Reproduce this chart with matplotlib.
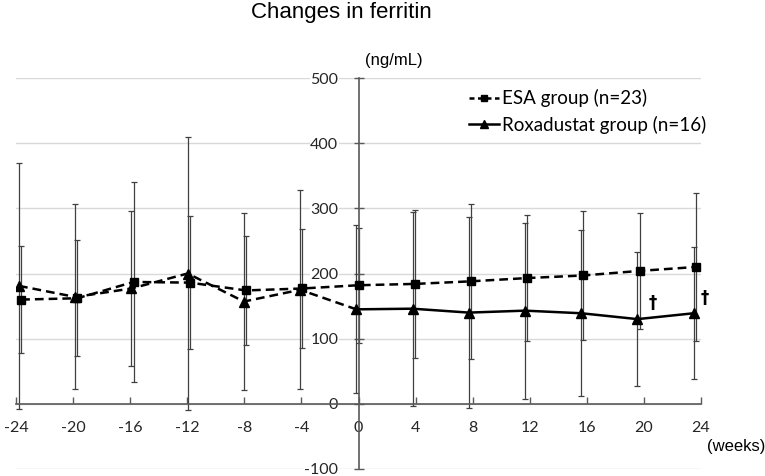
import matplotlib
matplotlib.use('Agg')
import matplotlib.pyplot as plt
import numpy as np

# values (ng/mL)
weeks = np.array([-24, -20, -16, -12, -8, -4, 0, 4, 8, 12, 16, 20, 24])
esa_mean = np.array([160, 162, 187, 186, 174, 177, 182, 184, 188, 193, 197, 204, 210])
esa_sd = np.array([82, 89, 153, 102, 84, 91, 88, 113, 119, 97, 99, 89, 113])
rox_mean = np.array([181, 164, 177, 200, 157, 175, 145, 146, 140, 143, 139, 130, 139])
rox_sd = np.array([189, 142, 119, 209, 136, 153, 129, 149, 147, 135, 127, 103, 101])

# significance marks (rox vs esa)
dagger_weeks = [20, 24]
dagger_y = [155, 162]
dagger_dx = [0.6, 0.25]

esa_label = 'ESA group (n=23)'
rox_label = 'Roxadustat group (n=16)'

axis_col = '#595959'
grid_col = '#d9d9d9'
bar_col = '#404040'
tick_font = 'Lato'
text_font = 'Liberation Sans'

fig = plt.figure(figsize=(7.65, 4.76), dpi=100)
ax = fig.add_axes([16 / 765, 7 / 476, 685 / 765, 391 / 476])

# the points sit a little inside the tick marks in the original
esa_x = weeks * 0.985
rox_x = weeks * 0.985 - 0.15

dash = (0, (3.5, 2))

ax.errorbar(rox_x, rox_mean, yerr=rox_sd, fmt='none', ecolor=bar_col,
            elinewidth=0.9, capsize=2.5, capthick=0.9, zorder=2)
ax.errorbar(esa_x, esa_mean, yerr=esa_sd, fmt='none', ecolor=bar_col,
            elinewidth=0.9, capsize=2.5, capthick=0.9, zorder=2)

pre = weeks <= 0
post = weeks >= 0
ax.plot(rox_x[pre], rox_mean[pre], color='black', lw=1.8, linestyle=dash, zorder=3)
ax.plot(rox_x[post], rox_mean[post], color='black', lw=1.8, zorder=3)
ax.plot(rox_x, rox_mean, linestyle='none', marker='^', ms=6.5, color='black', zorder=4)
ax.plot(esa_x, esa_mean, color='black', lw=1.8, linestyle=dash, marker='s', ms=5.5, zorder=4)

for w, y, dx in zip(dagger_weeks, dagger_y, dagger_dx):
    ax.text(w + dx, y, '\u2020', ha='center', va='center', fontsize=12,
            fontweight='bold', family='DejaVu Sans')

ax.set_xlim(-24, 24)
ax.set_ylim(-100, 500)
ax.set_xticks(weeks)
ax.set_xticklabels([str(w) for w in weeks])
ax.set_yticks(np.arange(-100, 501, 100))
ax.set_yticklabels([str(v) for v in range(-100, 501, 100)])

ax.spines['left'].set_position(('data', 0))
ax.spines['bottom'].set_position(('data', 0))
ax.spines['right'].set_visible(False)
ax.spines['top'].set_visible(False)
for s in ['left', 'bottom']:
    ax.spines[s].set_color(axis_col)
    ax.spines[s].set_linewidth(1.2)

ax.yaxis.grid(True, color=grid_col, lw=1)
ax.set_axisbelow(True)
ax.tick_params(axis='x', direction='in', length=5, width=1, color=axis_col,
               pad=12, labelsize=11.5, labelcolor='#262626')
ax.tick_params(axis='y', direction='inout', length=7, width=1, color=axis_col,
               pad=11, labelsize=11.5, labelcolor='#262626')
for lab in ax.get_xticklabels() + ax.get_yticklabels():
    lab.set_family(tick_font)
for lab in ax.get_yticklabels():
    lab.set_bbox(dict(facecolor='white', edgecolor='none', pad=0.5))

h_esa = plt.Line2D([], [], color='black', lw=1.8, linestyle=(0, (2.0, 1.4)), marker='s', ms=4.5)
h_rox = plt.Line2D([], [], color='black', lw=1.8, marker='^', ms=5.5)
fig.legend([h_esa, h_rox], [esa_label, rox_label], loc='upper left',
           bbox_to_anchor=(469 / 765, 1 - 89 / 476), frameon=False,
           borderpad=0, borderaxespad=0, handlelength=1.6, handletextpad=0.15,
           labelspacing=0.45, prop={'family': tick_font, 'size': 13.5})

fig.text(341 / 765, 1 - 18 / 476, 'Changes in ferritin', ha='center', va='baseline',
         fontsize=16, family=text_font)
fig.text(365 / 765, 1 - 60 / 476, '(ng/mL)', ha='left', va='center',
         fontsize=12, family=text_font)
fig.text(707 / 765, 1 - 447 / 476, '(weeks)', ha='left', va='center',
         fontsize=12, family=text_font)

fig.savefig('out.png', dpi=100)
